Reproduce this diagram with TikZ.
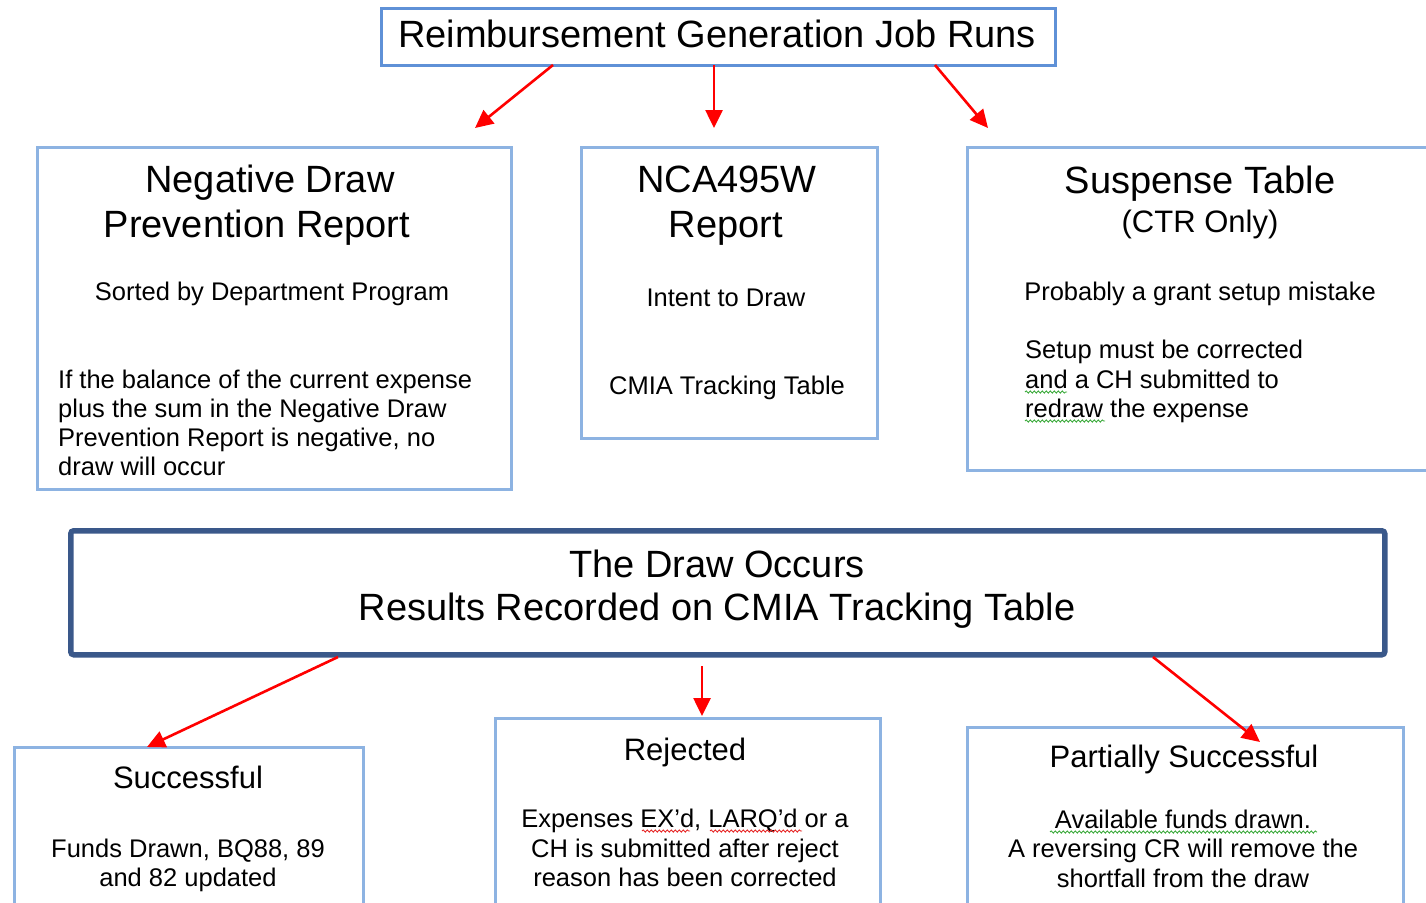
\documentclass[tikz,border=0pt]{standalone}
\usepackage{fontspec}
\setmainfont{Liberation Sans}
\usetikzlibrary{arrows.meta,decorations.pathmorphing}
\definecolor{boxblue}{RGB}{141,179,226}
\definecolor{topblue}{RGB}{95,145,215}
\definecolor{darkbox}{RGB}{58,88,138}
\definecolor{arrowred}{RGB}{255,0,0}
\definecolor{spellgreen}{RGB}{60,170,60}
\definecolor{spellred}{RGB}{230,40,40}
\begin{document}
\begin{tikzpicture}[x=1pt,y=-1pt,
  lbox/.style={draw=boxblue, line width=2.5pt, inner sep=0pt, anchor=north west, fill=none},
  tbox/.style={draw=topblue, line width=2.8pt, inner sep=0pt, anchor=north west},
  dbox/.style={draw=darkbox, line width=5.5pt, rounded corners=3pt, inner sep=0pt, anchor=north west},
  bigttl/.style={inner sep=0pt, anchor=base, font=\fontsize{38}{45}\selectfont},
  subttl/.style={inner sep=0pt, anchor=base, font=\fontsize{31}{37}\selectfont},
  bodyc/.style={inner sep=0pt, anchor=base, font=\fontsize{25.5}{29}\selectfont},
  bodyl/.style={inner sep=0pt, anchor=base west, font=\fontsize{25.5}{29}\selectfont},
  redarrow/.style={draw=arrowred, line width=2.6pt, -{Triangle[length=18pt,width=17pt]}},
  squig/.style={line width=0.9pt, decorate, decoration={snake, amplitude=1.1pt, segment length=4pt}}
]
\useasboundingbox (0,0) rectangle (1426,902);
\clip (0,0) rectangle (1426,902);

% boxes
\node[tbox, minimum width=674pt, minimum height=57pt] (top) at (380,7) {};
\node[lbox, minimum width=474pt, minimum height=342pt] (neg) at (36,146) {};
\node[lbox, minimum width=296pt, minimum height=291pt] (nca) at (580,146) {};
\node[lbox, minimum width=480pt, minimum height=323pt] (sus) at (966,146) {};
\node[dbox, minimum width=1314pt, minimum height=124pt] (draw) at (68,528) {};
\node[lbox, minimum width=349pt, minimum height=220pt] (succ) at (13,746) {};
\node[lbox, minimum width=385pt, minimum height=250pt] (rej) at (494,717) {};
\node[lbox, minimum width=436pt, minimum height=240pt] (part) at (966,726) {};

% top title
\node[bigttl] (topT) at (717,47) {Reimbursement Generation Job Runs};

% negative draw box
\node[bigttl] (negT1) at (270,192) {Negative Draw};
\node[bigttl] (negT2) at (257,237) {Prevention Report};
\node[bodyc] (negS) at (272,300) {Sorted by Department Program};
\node[bodyl] (negP1) at (58,388) {If the balance of the current expense};
\node[bodyl] (negP2) at (58,417) {plus the sum in the Negative Draw};
\node[bodyl] (negP3) at (58,446) {Prevention Report is negative, no};
\node[bodyl] (negP4) at (58,475) {draw will occur};

% NCA box
\node[bigttl] (ncaT1) at (727,192) {NCA495W};
\node[bigttl] (ncaT2) at (726,237) {Report};
\node[bodyc] (ncaS1) at (726,306) {Intent to Draw};
\node[bodyc] (ncaS2) at (727,394) {CMIA Tracking Table};

% suspense box
\node[bigttl] (susT1) at (1200,193) {Suspense Table};
\node[subttl] (susT2) at (1200,232) {(CTR Only)};
\node[bodyc] (susS) at (1200,300) {Probably a grant setup mistake};
\node[bodyl] (susP1) at (1025,358) {Setup must be corrected};
\node[bodyl] (susP2) at (1025,388) {and a CH submitted to};
\node[bodyl] (susP3) at (1025,417) {redraw the expense};

% draw occurs box
\node[bigttl] (drT1) at (717,577) {The Draw Occurs};
\node[bigttl] (drT2) at (717,620) {Results Recorded on CMIA Tracking Table};

% successful
\node[subttl] (succT) at (188,788) {Successful};
\node[bodyc] (succP1) at (188,857) {Funds Drawn, BQ88, 89};
\node[bodyc] (succP2) at (188,886) {and 82 updated};

% rejected
\node[subttl] (rejT) at (685,760) {Rejected};
\node[bodyc] (rejP1) at (685,827) {Expenses EX’d, LARQ’d or a};
\node[bodyc] (rejP2) at (685,857) {CH is submitted after reject};
\node[bodyc] (rejP3) at (685,886) {reason has been corrected};

% partially successful
\node[subttl] (partT) at (1184,767) {Partially Successful};
\node[bodyc] (partP1) at (1183,828) {Available funds drawn.};
\node[bodyc] (partP2) at (1183,857) {A reversing CR will remove the};
\node[bodyc] (partP3) at (1183,887) {shortfall from the draw};

% spell-check squiggles
\draw[squig, draw=spellgreen] (1025,392) -- (1067,392);
\draw[squig, draw=spellgreen] (1025,421) -- (1105,421);
\draw[squig, draw=spellred] (642,831) -- (690,831);
\draw[squig, draw=spellred] (710,831) -- (802,831);
\draw[squig, draw=spellgreen] (1050,832) -- (1317,832);

% arrow endpoints
\coordinate (a1s) at (553,65);  \coordinate (a1e) at (475,128);
\coordinate (a2s) at (714,65);  \coordinate (a2e) at (714,128);
\coordinate (a3s) at (935,65);  \coordinate (a3e) at (988,128);
\coordinate (b1s) at (338,657); \coordinate (b1e) at (147,747);
\coordinate (b2s) at (702,666); \coordinate (b2e) at (702,716);
\coordinate (b3s) at (1153,657);\coordinate (b3e) at (1260,742);

\draw[redarrow] (a1s) -- (a1e);
\draw[redarrow] (a2s) -- (a2e);
\draw[redarrow] (a3s) -- (a3e);
\draw[redarrow] (b1s) -- (b1e);
\draw[redarrow] (b2s) -- (b2e);
\draw[redarrow] (b3s) -- (b3e);
\end{tikzpicture}
\end{document}
